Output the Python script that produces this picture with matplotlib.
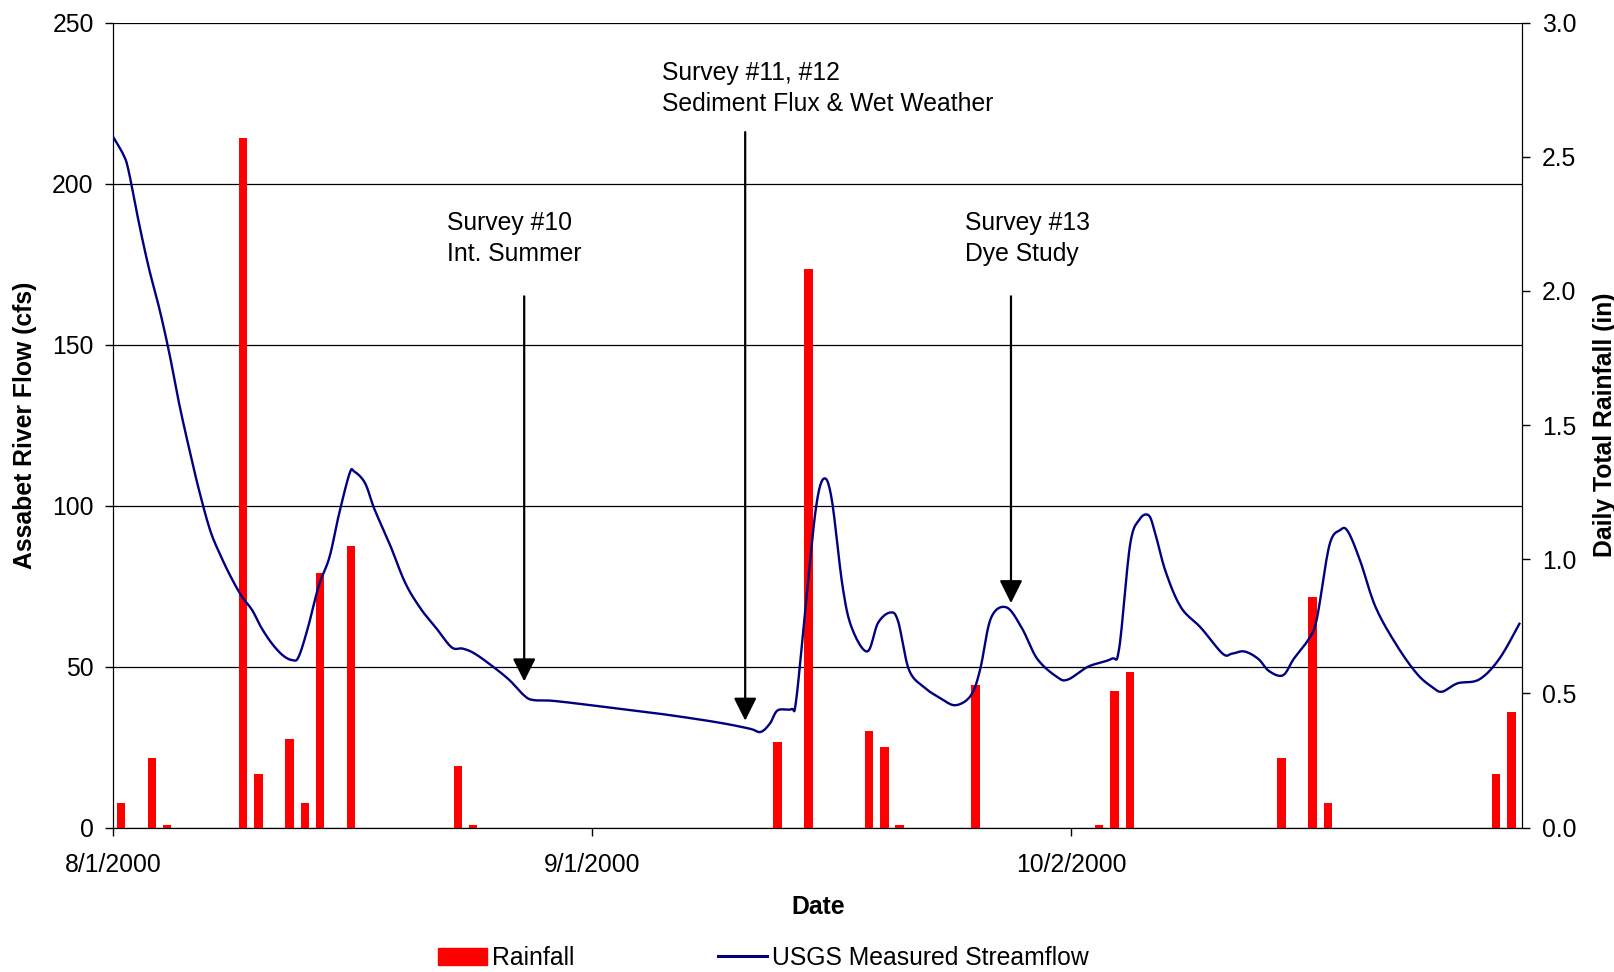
import numpy as np
import matplotlib
matplotlib.use("Agg")
import matplotlib.pyplot as plt
from matplotlib.patches import Patch
from matplotlib.lines import Line2D

plt.rcParams['font.family'] = ['Liberation Sans', 'DejaVu Sans']

# days counted from 8/1/2000
tick_days = [0, 31, 62]
tick_labels = ["8/1/2000", "9/1/2000", "10/2/2000"]

# daily rainfall (in), bar positions
rain_day = [0.5, 2.5, 3.5, 8.4, 9.4, 11.4, 12.4, 13.4, 15.4, 22.3, 23.3,
            43.0, 45.0, 48.9, 49.9, 50.9, 55.8, 63.8, 64.8, 65.8,
            75.6, 77.6, 78.6, 89.5, 90.5]
rain_in = [0.09, 0.26, 0.01, 2.57, 0.20, 0.33, 0.09, 0.95, 1.05, 0.23, 0.01,
           0.32, 2.08, 0.36, 0.30, 0.01, 0.53, 0.01, 0.51, 0.58,
           0.26, 0.86, 0.09, 0.20, 0.43]

# USGS streamflow (cfs)
flow_day = [0, 0.66, 1.0, 1.66, 2.3, 3.0, 3.65, 4.3, 5.0, 5.6, 6.3, 7.0, 7.6,
            8.3, 9.0, 9.6, 10.3, 11.0, 11.6, 12.0, 12.6, 13.3, 14.0, 14.6,
            15.3, 15.6, 16.3, 16.9, 17.9, 18.9, 19.9, 20.9, 21.9, 22.6, 23.3,
            24.3, 25.6, 26.6, 27.2, 28.6, 32.6, 35.9, 39.2, 41.2, 41.9, 42.5,
            43.0, 43.9, 44.2, 44.9, 45.5, 46.0, 46.5, 47.2, 47.8, 48.8, 49.5,
            50.3, 50.8, 51.5, 52.5, 53.5, 54.5, 55.5, 56.1, 56.8, 57.8, 58.8,
            59.8, 61.1, 61.8, 63.1, 64.6, 65.1, 65.8, 66.4, 67.0, 67.4, 68.1,
            69.1, 70.4, 71.8, 72.4, 73.2, 74.1, 74.8, 75.7, 76.4, 77.4, 77.9,
            78.7, 79.4, 79.9, 80.7, 81.7, 83.1, 84.4, 85.4, 86.0, 87.0, 88.4,
            89.7, 91.0]
flow_cfs = [214.5, 209, 204, 188, 174, 161, 147, 131, 116, 104, 92, 84, 78,
            72, 67.5, 62, 57, 53.4, 52, 53, 62, 75, 84, 97,
            110, 110.6, 107, 99, 88, 76, 68, 62, 56, 55.6, 54.3,
            51, 46, 41, 39.6, 39.3, 37, 35, 32.6, 30.7, 29.7, 32.3,
            36.4, 36.8, 39.6, 73, 100, 108.4, 102, 75, 62, 54.7, 63.6,
            66.8, 64, 49, 43.5, 40.3, 38, 41, 49, 65, 68.4, 62,
            52.4, 46.7, 46, 50, 52.4, 55.6, 87.6, 95.6, 97, 92, 79.6,
            68.4, 62, 54, 54, 54.7, 52.4, 48.6, 47.3, 52.4, 58.8, 65,
            87.6, 92.4, 92, 82.8, 68.4, 56.3, 47.6, 43.5, 42.2, 44.8, 46,
            52.4, 63.3]

# survey annotations: text, text x/y, arrow x, arrow top, arrow tip (cfs)
surveys = [("Survey #10\nInt. Summer", 21.6, 183, 26.6, 165, 45.4),
           ("Survey #11, #12\nSediment Flux & Wet Weather", 35.5, 229.5, 40.9, 216, 33.2),
           ("Survey #13\nDye Study", 55.1, 183, 58.1, 165, 69.7)]


def smooth(x, y, n=12):
    # Catmull-Rom through the points, like Excel's smoothed line
    p = np.column_stack([x, y]).astype(float)
    p = np.vstack([p[0], p, p[-1]])
    t = np.linspace(0, 1, n, endpoint=False)[:, None]
    out = []
    for i in range(1, len(p) - 2):
        p0, p1, p2, p3 = p[i - 1], p[i], p[i + 1], p[i + 2]
        out.append(0.5 * (2 * p1 + (-p0 + p2) * t
                          + (2 * p0 - 5 * p1 + 4 * p2 - p3) * t ** 2
                          + (-p0 + 3 * p1 - 3 * p2 + p3) * t ** 3))
    out.append(p[-2][None, :])
    out = np.vstack(out)
    return out[:, 0], out[:, 1]


fs = 17.8
fig = plt.figure(figsize=(16.14, 9.72), dpi=100)
pos = [0.0701, 0.1486, 0.8732, 0.8281]
ax = fig.add_axes(pos)
ax2 = ax.twinx()
ax3 = fig.add_axes(pos, sharex=ax, sharey=ax)
ax3.patch.set_visible(False)
ax3.axis("off")

ax.set_xlim(0, 91.2)
ax.set_ylim(0, 250)
ax.set_yticks(range(0, 251, 50))
ax.grid(axis="y", color="black", lw=0.9)
ax.set_axisbelow(True)
ax.set_xticks(tick_days)
ax.set_xticklabels(tick_labels)
ax.tick_params(labelsize=fs, length=6, width=1, pad=8)
ax.tick_params(axis="x", pad=12)
ax.set_ylabel("Assabet River Flow (cfs)", fontsize=fs, fontweight="bold", labelpad=11)
ax.set_xlabel("Date", fontsize=fs, fontweight="bold", labelpad=13)
ax.spines["top"].set_visible(False)

ax2.bar(rain_day, rain_in, width=0.55, color="#FF0000", zorder=2)
ax2.set_ylim(0, 3.0)
ax2.set_yticks(np.arange(0, 3.01, 0.5))
ax2.set_yticklabels([f"{v:.1f}" for v in np.arange(0, 3.01, 0.5)])
ax2.tick_params(labelsize=fs, length=6, width=1, pad=8)
ax2.set_ylabel("Daily Total Rainfall (in)", fontsize=fs, fontweight="bold", labelpad=12)
ax2.spines["top"].set_visible(False)

sx, sy = smooth(flow_day, flow_cfs)
ax3.plot(sx, sy, color="#000080", lw=1.7)

for text, tx, ty, axx, y0, y1 in surveys:
    ax3.text(tx, ty, text, fontsize=fs, ha="left", va="center", linespacing=1.35)
    ax3.annotate("", xy=(axx, y1), xytext=(axx, y0),
                 arrowprops=dict(arrowstyle="-|>,head_length=1.0,head_width=0.5",
                                 color="black", lw=1.6, mutation_scale=14,
                                 shrinkA=0, shrinkB=0))

handles = [Patch(color="#FF0000", label="Rainfall"),
           Line2D([], [], color="#000080", lw=2.2, label="USGS Measured Streamflow")]
fig.legend(handles=handles, loc="center", bbox_to_anchor=(0.473, 0.0144),
           ncol=2, frameon=False, fontsize=fs, handlelength=2.0,
           handletextpad=0.2, columnspacing=5.8, borderpad=0)

fig.savefig("out.png", dpi=100)
